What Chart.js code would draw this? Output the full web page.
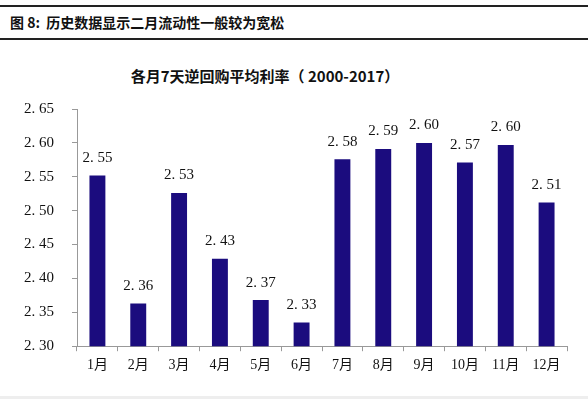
<!DOCTYPE html>
<html>
<head>
<meta charset="utf-8">
<script src="https://cdn.jsdelivr.net/npm/chart.js@4.4.0/dist/chart.umd.min.js"></script>
<style>
    body { margin: 0; background: #fff; width: 588px; height: 399px; overflow: hidden; position: relative; }
    .header {
        position: absolute; left: 0; top: 5px; width: 588px; height: 31px;
        border-top: 2px solid #222; border-bottom: 2px solid #222;
        font-family: "Noto Sans CJK SC", sans-serif; font-weight: bold; font-size: 14px;
        line-height: 31px; padding-left: 10px; color: #111;
    }
    .title {
        position: absolute; left: 0; width: 530px; top: 65px; text-align: center;
        font-family: "Noto Sans CJK SC", sans-serif; font-weight: bold; font-size: 15px;
        line-height: 22px; color: #111;
    }
    .chart-wrap { position: absolute; left: 0; top: 82px; width: 588px; height: 298px; }
    .bottom-strip { position: absolute; left: 0; top: 396px; width: 588px; height: 3px; background: #eee; }
</style>
</head>
<body>
<div class="header">图 8:&nbsp; 历史数据显示二月流动性一般较为宽松</div>
<div class="title">各月7天逆回购平均利率（ 2000-2017）</div>
<div class="chart-wrap"><canvas id="repoChart" width="588" height="298"></canvas></div>
<div class="bottom-strip"></div>
<script>
// Data
const months = ['1月', '2月', '3月', '4月', '5月', '6月', '7月', '8月', '9月', '10月', '11月', '12月'];
const avgRates = [2.552, 2.363, 2.526, 2.429, 2.368, 2.335, 2.576, 2.591, 2.600, 2.571, 2.597, 2.512];
const yTicks = [2.30, 2.35, 2.40, 2.45, 2.50, 2.55, 2.60, 2.65];

const numFont = { family: '"Liberation Serif", "Noto Sans CJK SC", serif', size: 15 };

function spaced(v) {
    // mimic the gap after the decimal point in the original
    return v.toFixed(2).replace('.', '. ');
}

// Value labels above each bar
const barLabels = {
    id: 'barLabels',
    afterDatasetsDraw(chart) {
        const ctx = chart.ctx;
        const meta = chart.getDatasetMeta(0);
        ctx.save();
        ctx.font = `${numFont.size}px ${numFont.family}`;
        ctx.fillStyle = '#111';
        ctx.textAlign = 'center';
        ctx.textBaseline = 'bottom';
        meta.data.forEach((bar, i) => {
            ctx.fillText(spaced(avgRates[i]), bar.x, bar.y - 10);
        });
        ctx.restore();
    }
};

const ctx = document.getElementById('repoChart').getContext('2d');
window.repoChart = new Chart(ctx, {
    type: 'bar',
    data: {
        labels: months,
        datasets: [{
            data: avgRates,
            backgroundColor: '#1b0c7e',
            barPercentage: 0.39,
            categoryPercentage: 1
        }]
    },
    options: {
        responsive: false,
        animation: false,
        layout: { padding: { left: 0, right: 21, top: 9, bottom: 0 } },
        plugins: {
            legend: { display: false },
            tooltip: { enabled: false },
            title: { display: false }
        },
        scales: {
            x: {
                grid: { drawOnChartArea: false, offset: true, color: '#999', tickLength: 5 },
                border: { color: '#999' },
                ticks: { color: '#111', font: { family: '"Liberation Serif", "Noto Sans CJK SC", serif', size: 14 }, padding: 6 }
            },
            y: {
                min: 2.30,
                max: 2.65,
                afterBuildTicks(axis) {
                    axis.ticks = yTicks.map(v => ({ value: v }));
                },
                afterFit(axis) {
                    axis.width = 77;
                },
                grid: { drawOnChartArea: false, color: '#999', tickLength: 5 },
                border: { color: '#999' },
                ticks: {
                    color: '#111',
                    font: numFont,
                    padding: 18,
                    callback: v => spaced(v)
                }
            }
        }
    },
    plugins: [barLabels]
});
</script>
</body>
</html>
